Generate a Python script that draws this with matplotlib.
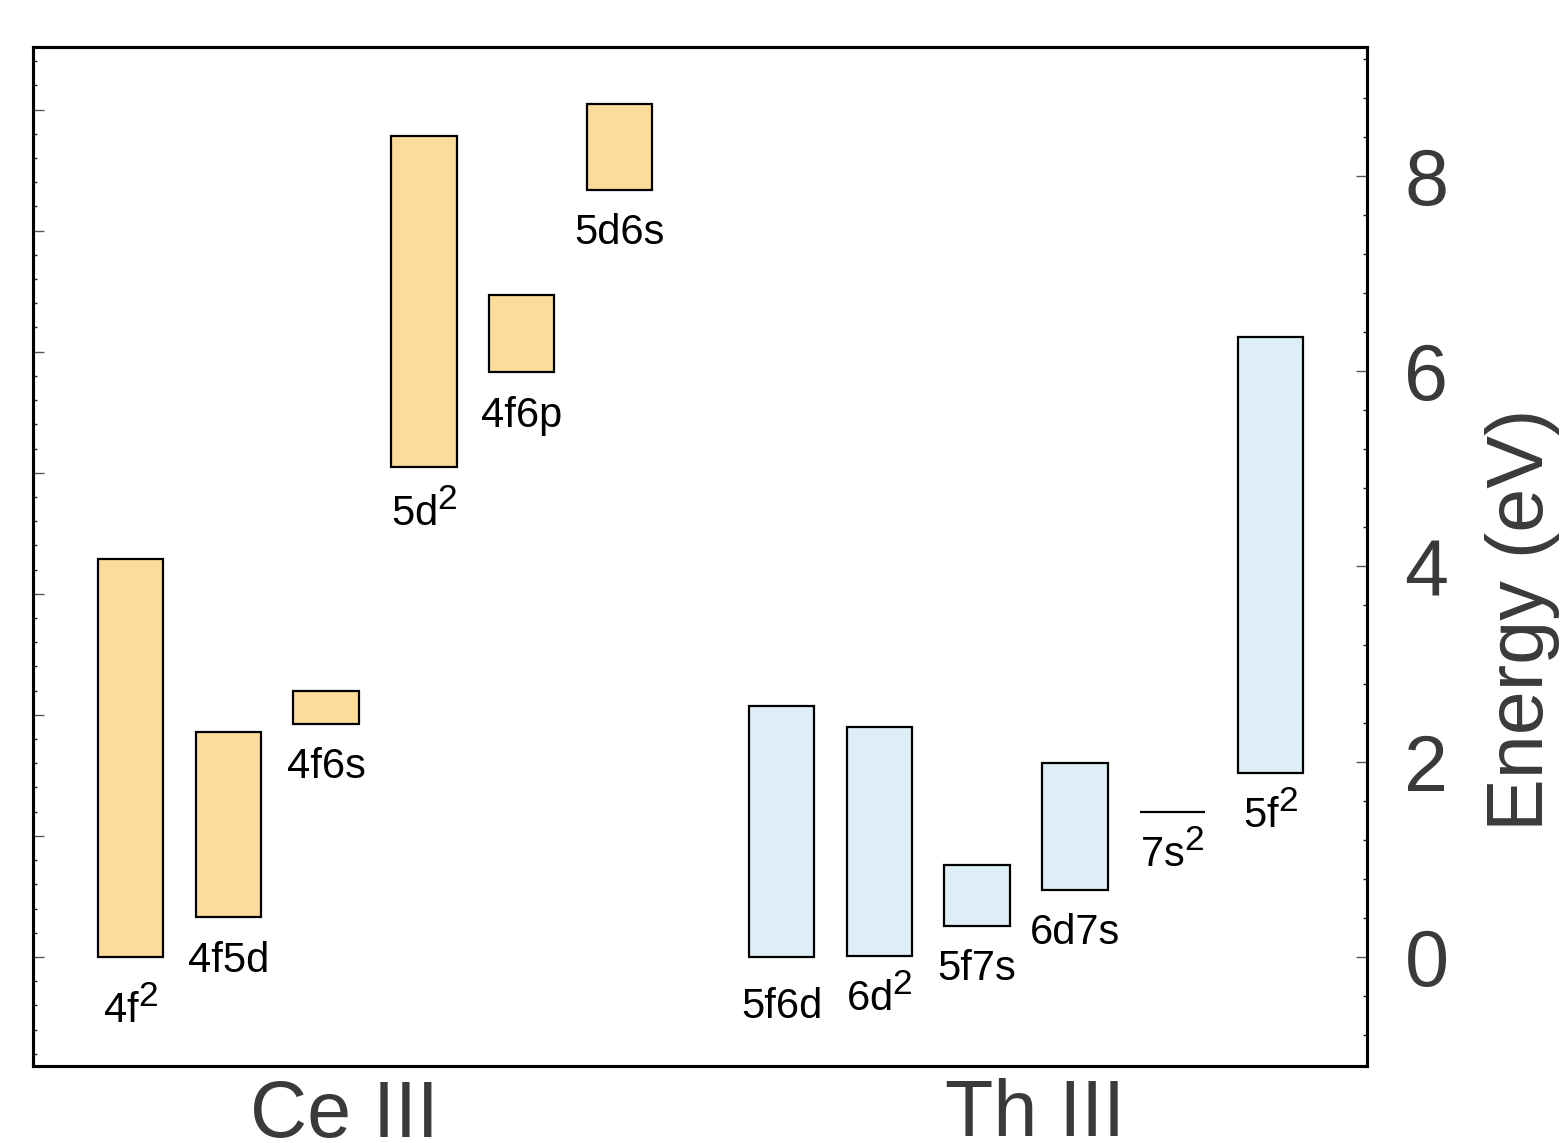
import numpy as np
import matplotlib
matplotlib.use('Agg')
import matplotlib.pyplot as plt
import matplotlib._mathtext as mt
from matplotlib.ticker import MultipleLocator, NullFormatter

plt.rcParams['font.family'] = 'Liberation Sans'
plt.rcParams['mathtext.fontset'] = 'custom'
plt.rcParams['mathtext.rm'] = 'Liberation Sans'
plt.rcParams['mathtext.it'] = 'Liberation Sans'
mt.SHRINK_FACTOR = 0.85  # bigger superscripts, like the original

EV_TO_CM = 8065.54  # 1 eV in cm^-1

# configuration energy ranges (eV)
ce_cfg = ['4f$^2$', '4f5d', '4f6s', '5d$^2$', '4f6p', '5d6s']
ce_low = [0.0, 0.41, 2.39, 5.02, 5.99, 7.86]
ce_high = [4.08, 2.30, 2.72, 8.41, 6.78, 8.74]

th_cfg = ['5f6d', '6d$^2$', '5f7s', '6d7s', '7s$^2$', '5f$^2$']
th_low = [0.0, 0.01, 0.32, 0.69, 1.48, 1.88]
th_high = [2.57, 2.36, 0.94, 1.99, 1.48, 6.35]

groups = ['Ce III', 'Th III']

# extra drop of some labels below their bar (eV)
ce_drop = [0.12, 0, 0, 0.05, 0, 0]
th_drop = [0.07, 0, 0, 0, 0, 0]

ce_col = '#FDDB9A'
th_col = '#DEEEF6'
txt_col = '#3a3a3a'

fig = plt.figure(figsize=(15.66, 11.43), dpi=100)
ax = fig.add_axes([33/1566, 1-1066/1143, (1367-33)/1566, (1066-47)/1143])
ax2 = ax.twinx()

ylo, yhi = -1.117, 9.32
ax2.set_ylim(ylo, yhi)
ax.set_ylim(ylo*EV_TO_CM, yhi*EV_TO_CM)
ax.set_xlim(-1, 12.65)

ce_x = np.arange(len(ce_cfg))
th_x = np.arange(len(th_cfg)) + 6.66
w = 0.67

for xs, lo, hi, names, col, drop in [(ce_x, ce_low, ce_high, ce_cfg, ce_col, ce_drop),
                                     (th_x, th_low, th_high, th_cfg, th_col, th_drop)]:
    lo = np.array(lo)
    hi = np.array(hi)
    ax2.bar(xs, hi-lo, bottom=lo, width=w, color=col, edgecolor='black', linewidth=1.6)
    for x, l, n, d in zip(xs, lo, names, drop):
        ax2.text(x, l-0.56-d, n, ha='center', va='baseline', fontsize=30, color='black')

# left axis: cm^-1 ticks, no labels
ax.yaxis.set_major_locator(MultipleLocator(10000))
ax.yaxis.set_minor_locator(MultipleLocator(2000))
ax.yaxis.set_major_formatter(NullFormatter())
ax.tick_params(axis='y', which='major', direction='in', length=8, width=1, color='#555555', right=False)
ax.tick_params(axis='y', which='minor', direction='in', length=3.2, width=1, color='#222222', right=False)

# right axis: eV
ax2.yaxis.set_major_locator(MultipleLocator(2))
ax2.yaxis.set_minor_locator(MultipleLocator(0.4))
ax2.tick_params(axis='y', which='major', direction='in', length=8, width=1, color='#555555',
                labelsize=57, labelcolor=txt_col, pad=27, left=False)
ax2.tick_params(axis='y', which='minor', direction='in', length=3.2, width=1, color='#222222', left=False)

ax.set_xticks([2.19, 9.25], groups)
ax.tick_params(axis='x', length=0, labelsize=57, labelcolor=txt_col, pad=9)

for a in (ax, ax2):
    for s in a.spines.values():
        s.set_linewidth(2.2)

fig.text(1522/1566, 1-620/1143, 'Energy (eV)', rotation=90, ha='center', va='center',
         fontsize=57, color=txt_col)

fig.savefig('out.png', dpi=100)
